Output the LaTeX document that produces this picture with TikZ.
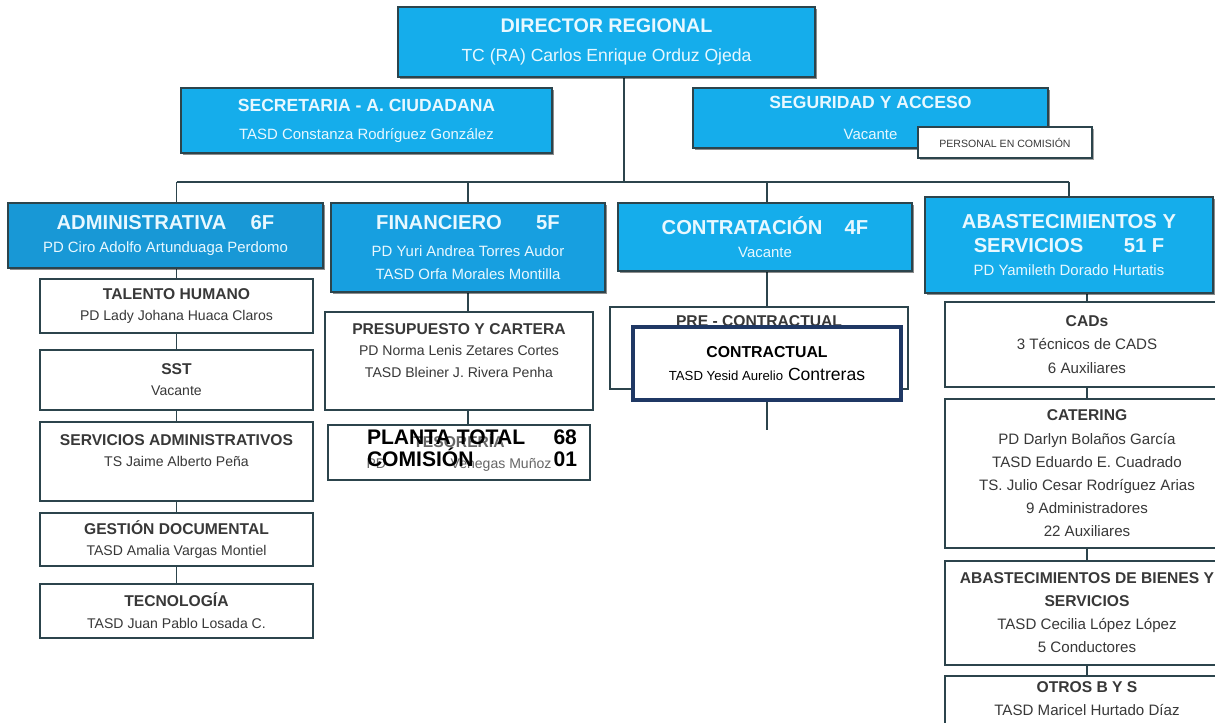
\documentclass[tikz,border=0pt]{standalone}
\usepackage{fontspec}
\setmainfont{Liberation Sans}
\usetikzlibrary{positioning,backgrounds,shadows}

\definecolor{headblue}{HTML}{15ADEB}
\definecolor{admblue}{HTML}{1898D6}
\definecolor{finblue}{HTML}{179FE0}
\definecolor{edge}{HTML}{2C444C}
\definecolor{inkgray}{HTML}{383838}
\definecolor{navyline}{HTML}{1F3864}
\definecolor{paleink}{HTML}{E8F8FF}

\newcommand\headtxt[1]{{\bfseries\fontsize{11.5}{13}\selectfont #1}}
\newcommand\unittxt[1]{{\bfseries\fontsize{8.9}{12}\selectfont #1}}

\begin{document}
\begin{tikzpicture}[x=0.02cm, y=-0.02cm,
    head/.style={rectangle, fill=headblue, draw=edge, line width=1pt, text=paleink, align=center,
      font=\fontsize{8.5}{13}\selectfont,
      drop shadow={shadow xshift=1.3pt, shadow yshift=-1.3pt, opacity=.45, fill=black}},
    unit/.style={rectangle, fill=white, draw=edge, line width=1.1pt, text=inkgray, align=center,
      minimum width=5.46cm, font=\fontsize{8}{12}\selectfont},
    supply/.style={unit, minimum width=5.68cm, font=\fontsize{8.6}{13.2}\selectfont},
    link/.style={draw=edge, line width=1.1pt}]

  \useasboundingbox (0,0) rectangle (1215,723);
  \clip (0,0) rectangle (1215,723);

  % direccion y apoyo
  \node[head, minimum width=8.34cm, minimum height=1.4cm, font=\fontsize{10}{13}\selectfont] (dir) at (606.5,42)
    {{\bfseries\fontsize{11.2}{13}\selectfont DIRECTOR REGIONAL}\\[3pt] TC (RA) Carlos Enrique Orduz Ojeda};
  \node[head, minimum width=7.42cm, minimum height=1.3cm] (sec) at (366.5,120.5)
    {{\bfseries\fontsize{10}{12}\selectfont SECRETARIA - A. CIUDADANA}\\[3pt] TASD Constanza Rodríguez González};
  \node[head, minimum width=7.1cm, minimum height=1.2cm] (seg) at (870.5,118)
    {{\bfseries\fontsize{10}{12}\selectfont SEGURIDAD Y ACCESO}\\[5pt] Vacante};
  \node[unit, minimum width=3.48cm, minimum height=0.62cm, font=\fontsize{6}{7}\selectfont,
    drop shadow={shadow xshift=1pt, shadow yshift=-1pt, opacity=.35, fill=black}] (com) at (1005,142.5)
    {PERSONAL EN COMISIÓN};

  \coordinate (bus) at (624,182);

  % areas
  \node[head, fill=admblue, minimum width=6.3cm, minimum height=1.3cm] (adm) at (165.5,235.5)
    {\headtxt{ADMINISTRATIVA\hspace{1.2em}6F}\\ PD Ciro Adolfo Artunduaga Perdomo};
  \node[head, fill=finblue, minimum width=5.48cm, minimum height=1.78cm] (fin) at (468,247.5)
    {\headtxt{FINANCIERO\hspace{1.7em}5F}\\[2pt] PD Yuri Andrea Torres Audor\\ TASD Orfa Morales Montilla};
  \node[head, minimum width=5.88cm, minimum height=1.36cm] (con) at (765,237)
    {\headtxt{CONTRATACIÓN\hspace{1.1em}4F}\\ Vacante};
  \node[head, minimum width=5.76cm, minimum height=1.92cm] (aba) at (1069,245)
    {\headtxt{ABASTECIMIENTOS Y}\\[1pt] \headtxt{SERVICIOS\hspace{2em}51 F}\\ PD Yamileth Dorado Hurtatis};

  % administrativa
  \node[unit, minimum height=1.08cm] (tal) at (176.5,306) {\unittxt{TALENTO HUMANO}\\ PD Lady Johana Huaca Claros};
  \node[unit, minimum height=1.2cm, below=0.3cm of tal] (sst) {\unittxt{SST}\\ Vacante};
  \node[unit, minimum height=1.58cm, below=0.2cm of sst] (sad) {\unittxt{SERVICIOS ADMINISTRATIVOS}\\ TS Jaime Alberto Peña\\ \mbox{}};
  \node[unit, minimum height=1.06cm, below=0.2cm of sad] (gdo) {\unittxt{GESTIÓN DOCUMENTAL}\\ TASD Amalia Vargas Montiel};
  \node[unit, minimum height=1.08cm, below=0.32cm of gdo] (tec) {\unittxt{TECNOLOGÍA}\\ TASD Juan Pablo Losada C.};

  % financiero
  \node[unit, minimum width=5.36cm, minimum height=1.96cm] (presu) at (459,361)
    {\unittxt{PRESUPUESTO Y CARTERA}\\ PD Norma Lenis Zetares Cortes\\ TASD Bleiner J. Rivera Penha\\ \mbox{}};
  \node[unit, minimum width=5.24cm, minimum height=1.1cm, below=0.26cm of presu, text=gray!80!black] (tes)
    {\unittxt{TESORERÍA}\\ PD\hspace{4.6em}Venegas Muñoz};
  \node[inner sep=0pt, align=left, font=\bfseries\fontsize{12}{12.5}\selectfont] (planta) at (472,448)
    {\makebox[4.2cm]{PLANTA TOTAL\hfill 68}\\ \makebox[4.2cm]{COMISIÓN\hfill 01}};

  % contratacion
  \node[unit, minimum width=5.96cm, minimum height=1.64cm,
    label={[anchor=north, inner sep=0pt, yshift=-5pt, text=inkgray]north:\unittxt{PRE - CONTRACTUAL}}] (prc) at (759,348) {};
  \node[rectangle, draw=navyline, line width=2.3pt, fill=white, align=center, minimum width=5.36cm,
    minimum height=1.46cm, font=\fontsize{10}{13}\selectfont] (ctr) at (767,363.5)
    {{\bfseries\fontsize{9}{13}\selectfont CONTRACTUAL}\\ {\fontsize{7.5}{13}\selectfont TASD Yesid Aurelio} Contreras};
  \coordinate (conend) at (767,430);

  % abastecimientos
  \node[supply, minimum height=1.7cm] (cad) at (1087,344.5) {\unittxt{CADs}\\ 3 Técnicos de CADS\\ 6 Auxiliares};
  \node[supply, minimum height=2.98cm, below=0.2cm of cad] (cat) {\unittxt{CATERING}\\ PD Darlyn Bolaños García\\
    TASD Eduardo E. Cuadrado\\ TS. Julio Cesar Rodríguez Arias\\ 9 Administradores\\ 22 Auxiliares};
  \node[supply, minimum height=2.08cm, below=0.22cm of cat] (abs) {\unittxt{ABASTECIMIENTOS DE BIENES Y}\\
    \unittxt{SERVICIOS}\\ TASD Cecilia López López\\ 5 Conductores};
  \node[supply, minimum height=1.8cm, below=0.18cm of abs] (otr) {\unittxt{OTROS B Y S}\\ TASD Maricel Hurtado Díaz\\ \mbox{}\\ \mbox{}};

  \begin{scope}[on background layer]
    \draw[link] (bus |- dir.south) -- (bus);
    \draw[link] (bus -| tal) -- (bus -| aba);
    \draw[link] (bus -| tal) -- (tec);
    \draw[link] (bus -| fin) -- (fin |- tes);
    \draw[link] (bus -| conend) -- (conend);
    \draw[link] (bus -| aba) -- (aba);
    \draw[link] (aba -| cad) -- (otr);
  \end{scope}

\end{tikzpicture}
\end{document}
